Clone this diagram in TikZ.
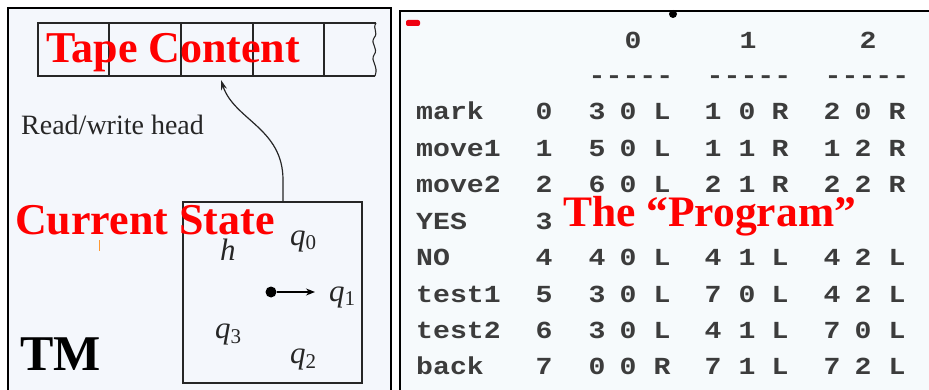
\documentclass[tikz,border=0pt]{standalone}
\usepackage{fontspec}
\setmainfont{Liberation Serif}
\newfontfamily\progfont[FakeStretch=1.15]{Liberation Mono}
\usetikzlibrary{arrows.meta}
\definecolor{panelA}{RGB}{244,247,252}
\definecolor{panelB}{RGB}{246,250,252}
\definecolor{ink}{RGB}{60,60,60}
\newcommand{\qsub}[1]{\textit{q}\raisebox{-5pt}{\fontsize{21}{21}\selectfont #1}}
\tikzset{
  frame/.style={line width=1.5pt},
  tapeline/.style={line width=1.1pt, black!85},
  redlbl/.style={anchor=base west, inner sep=0pt, text=red, font=\fontsize{44}{44}\selectfont\bfseries},
  qlbl/.style={inner sep=0pt, font=\fontsize{31}{31}\selectfont, text=black!85},
  prog/.style={anchor=base, inner sep=0pt, text=ink, font=\progfont\fontsize{24.5}{24.5}\selectfont\bfseries},
  progl/.style={anchor=base west, inner sep=0pt, text=ink, font=\progfont\fontsize{24.5}{24.5}\selectfont\bfseries},
}
\begin{document}
\begin{tikzpicture}[x=1pt,y=-1pt]
\useasboundingbox (0,0) rectangle (929,390);
% panels
\fill[panelA] (9,9) rectangle (390,392);
\fill[panelB] (401,12) rectangle (931,392);
\draw[frame] (8,395) -- (8,8) -- (391,8) -- (391,395);
\draw[frame] (400,395) -- (400,11) -- (935,11);
% tape
\draw[tapeline] (376,23) -- (38,23) -- (38,76) -- (375,76);
\draw[tapeline] (376,23) .. controls (372,29) and (379,32) .. (374,38)
  .. controls (370,44) and (379,48) .. (374,55)
  .. controls (370,61) and (379,66) .. (375,76);
\foreach \x in {109,181,253,324} \draw[tapeline] (\x,23) -- (\x,76);
\coordinate (head) at (221,80);
% state box
\node[draw=black!85, line width=1.1pt, minimum width=179pt, minimum height=181pt, inner sep=0pt] (box) at (272.5,292.5) {};
\draw[line width=1.2pt, black!85, -{Stealth[length=10pt,width=6pt]}]
  (box.north -| 283,0) -- (283,180) .. controls (283,128) and (234,120) .. (head);
\node[anchor=base west, inner sep=0pt, font=\fontsize{28}{28}\selectfont, text=black!85] (rw) at (21,135) {Read/write head};
% states
\node[qlbl, anchor=base west] (q0) at (290,245) {\qsub{0}};
\node[qlbl, anchor=base west] (h) at (220,260) {\textit{h}};
\node[qlbl, anchor=base west] (q1) at (329,301) {\qsub{1}};
\node[qlbl, anchor=base west] (q3) at (215,338) {\qsub{3}};
\node[qlbl, anchor=base west] (q2) at (290,363) {\qsub{2}};
\node[circle, fill=black, inner sep=0pt, minimum size=11pt] (dot) at (271,292) {};
\coordinate (dotend) at (315,292);
\draw[line width=1.3pt, -{Stealth[length=9pt,width=7pt]}] (dot) -- (dotend);
% red labels
\node[redlbl] (tape) at (46,63) {Tape Content};
\node[redlbl] (cs) at (15,235) {Current State};
\node[anchor=base west, inner sep=0pt, font=\fontsize{50}{50}\selectfont\bfseries] (tm) at (20,370) {TM};
% artifacts
\draw[orange!80, line width=1pt] (99,240) -- (99,251);
\fill[black] (673,14) circle (4);
\fill[red!75!purple, rounded corners=2pt] (406,20) rectangle (420,26);
% program table
\node[prog] (h0) at (633,49) {0};
\node[prog] (h1) at (748,49) {1};
\node[prog] (h2) at (868,49) {2};
\node[prog] (d0) at (631,84) {-----};
\node[prog] (d1) at (749,84) {-----};
\node[prog] (d2) at (867,84) {-----};
\foreach [count=\i from 0] \lab/\st/\entries in {
  mark/0/{3,0,L,1,0,R,2,0,R},
  move1/1/{5,0,L,1,1,R,1,2,R},
  move2/2/{6,0,L,2,1,R,2,2,R},
  YES/3/{},
  NO/4/{4,0,L,4,1,L,4,2,L},
  test1/5/{3,0,L,7,0,L,4,2,L},
  test2/6/{3,0,L,4,1,L,7,0,L},
  back/7/{0,0,R,7,1,L,7,2,L}} {
  \pgfmathsetmacro{\yy}{120+36.4*\i}
  \node[progl] (lab\i) at (416,\yy) {\lab};
  \node[prog] (st\i) at (544,\yy) {\st};
  \foreach [count=\j from 0] \e in \entries {
    \pgfmathsetmacro{\xx}{{597,628,662,713,747,780,832,863,897}[\j]}
    \node[prog] (e\i\j) at (\xx,\yy) {\e};
  }
}
\node[redlbl, font=\fontsize{43.5}{43.5}\selectfont\bfseries] (prg) at (563,226) {The “Program”};
\end{tikzpicture}
\end{document}
